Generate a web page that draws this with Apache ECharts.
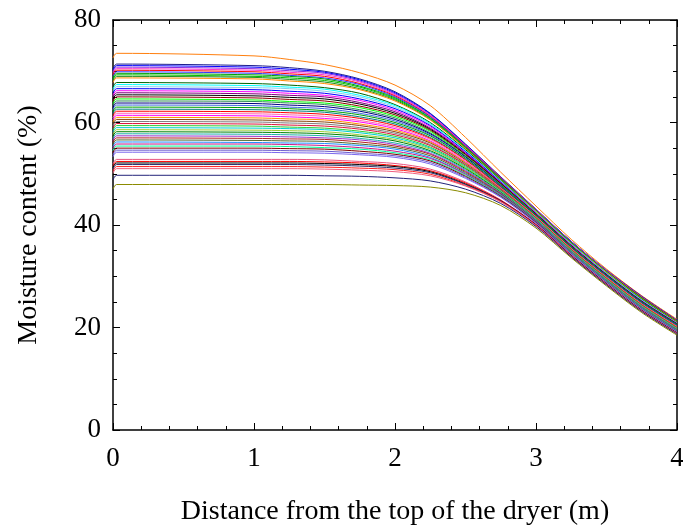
<!DOCTYPE html>
<html>
<head>
<meta charset="utf-8">
<script src="https://cdn.jsdelivr.net/npm/echarts@6/dist/echarts.min.js"></script>
<style>html,body{margin:0;padding:0;background:#fff;overflow:hidden}#c{width:683px;height:527px}</style>
</head>
<body>
<div id="c"></div>
<script>
// distance from the top of the dryer (m)
const distance = [0, 0.025, 1, 1.25, 1.5, 1.75, 2, 2.25, 2.5, 2.75, 3, 3.25, 3.5, 3.75, 4];
const xTicks = [0, 1, 2, 3, 4];
const yTicks = [0, 20, 40, 60, 80];

// moisture content (%) curves, highest initial moisture first
const upperCurves = [
  [72.6, 73.5, 73.0, 72.3, 71.3, 69.7, 67.3, 63.3, 57.1, 50.3, 43.7, 37.2, 31.4, 26.2, 21.6],
  [70.5, 71.4, 71.1, 70.7, 70.0, 68.5, 66.0, 61.8, 55.8, 49.4, 43.1, 36.8, 31.2, 26.1, 21.4],
  [70.2, 71.1, 70.8, 70.4, 69.8, 68.3, 65.8, 61.7, 55.7, 49.3, 43.0, 36.8, 31.1, 26.0, 21.4],
  [69.9, 70.8, 70.5, 70.1, 69.6, 68.1, 65.6, 61.5, 55.6, 49.3, 43.0, 36.7, 31.1, 26.0, 21.3],
  [69.6, 70.5, 70.2, 69.8, 69.3, 67.9, 65.4, 61.4, 55.5, 49.2, 43.0, 36.7, 31.1, 25.9, 21.3],
  [69.3, 70.2, 69.9, 69.5, 69.0, 67.6, 65.2, 61.2, 55.4, 49.2, 42.9, 36.6, 31.0, 25.9, 21.3],
  [69.0, 69.9, 69.6, 69.2, 68.7, 67.4, 65.0, 61.1, 55.3, 49.1, 42.9, 36.6, 31.0, 25.8, 21.2],
  [68.7, 69.6, 69.3, 69.0, 68.5, 67.1, 64.8, 60.9, 55.2, 49.0, 42.8, 36.6, 30.9, 25.8, 21.2],
  [68.4, 69.3, 69.0, 68.7, 68.2, 66.9, 64.6, 60.8, 55.1, 49.0, 42.8, 36.5, 30.9, 25.7, 21.2],
  [68.1, 69.0, 68.8, 68.4, 67.9, 66.6, 64.4, 60.6, 55.0, 48.9, 42.7, 36.5, 30.8, 25.7, 21.1],
  [67.8, 68.7, 68.5, 68.1, 67.6, 66.4, 64.2, 60.5, 54.9, 48.8, 42.7, 36.4, 30.8, 25.6, 21.1]
];
const denseCurves = [
  [66.9, 67.8, 67.6, 67.3, 66.8, 65.7, 63.5, 60.0, 54.7, 48.7, 42.5, 36.3, 30.6, 25.5, 21.0],
  [66.5, 67.4, 67.2, 66.9, 66.5, 65.3, 63.3, 59.8, 54.5, 48.6, 42.5, 36.3, 30.6, 25.4, 20.9],
  [66.1, 67.0, 66.8, 66.6, 66.1, 65.0, 63.0, 59.6, 54.4, 48.5, 42.4, 36.2, 30.5, 25.3, 20.9],
  [65.7, 66.6, 66.4, 66.1, 65.7, 64.6, 62.7, 59.4, 54.3, 48.4, 42.3, 36.1, 30.4, 25.2, 20.8],
  [65.3, 66.2, 66.0, 65.7, 65.3, 64.3, 62.4, 59.2, 54.1, 48.3, 42.3, 36.1, 30.4, 25.2, 20.8],
  [64.9, 65.8, 65.6, 65.3, 65.0, 63.9, 62.1, 58.9, 54.0, 48.2, 42.2, 36.0, 30.3, 25.1, 20.7],
  [64.5, 65.4, 65.2, 64.9, 64.6, 63.6, 61.8, 58.7, 53.8, 48.1, 42.1, 35.9, 30.3, 25.1, 20.7],
  [64.1, 65.0, 64.8, 64.5, 64.2, 63.2, 61.5, 58.5, 53.7, 48.0, 42.1, 35.9, 30.2, 25.0, 20.6],
  [63.7, 64.6, 64.4, 64.1, 63.8, 62.9, 61.2, 58.3, 53.5, 47.9, 42.0, 35.8, 30.2, 25.0, 20.6],
  [63.3, 64.2, 64.1, 63.8, 63.5, 62.5, 60.9, 58.0, 53.4, 47.8, 41.9, 35.8, 30.1, 24.9, 20.5],
  [62.9, 63.8, 63.7, 63.4, 63.1, 62.2, 60.6, 57.8, 53.3, 47.7, 41.9, 35.7, 30.1, 24.9, 20.5],
  [62.5, 63.4, 63.3, 63.0, 62.7, 61.8, 60.3, 57.6, 53.1, 47.6, 41.8, 35.6, 30.0, 24.8, 20.4],
  [62.1, 63.0, 62.9, 62.7, 62.3, 61.5, 60.0, 57.4, 53.0, 47.5, 41.8, 35.6, 29.9, 24.7, 20.3],
  [61.7, 62.6, 62.5, 62.3, 62.0, 61.1, 59.7, 57.1, 52.8, 47.4, 41.7, 35.5, 29.9, 24.7, 20.3],
  [61.3, 62.2, 62.1, 61.9, 61.6, 60.8, 59.4, 56.9, 52.7, 47.3, 41.6, 35.4, 29.8, 24.6, 20.2],
  [60.9, 61.8, 61.7, 61.5, 61.2, 60.4, 59.1, 56.7, 52.5, 47.2, 41.6, 35.4, 29.8, 24.6, 20.2],
  [60.5, 61.4, 61.3, 61.1, 60.8, 60.1, 58.8, 56.4, 52.3, 47.2, 41.5, 35.3, 29.7, 24.5, 20.1],
  [60.1, 61.0, 60.9, 60.7, 60.5, 59.7, 58.5, 56.2, 52.2, 47.1, 41.5, 35.3, 29.7, 24.5, 20.1],
  [59.7, 60.6, 60.5, 60.3, 60.1, 59.4, 58.2, 56.0, 52.0, 47.0, 41.4, 35.2, 29.6, 24.4, 20.0],
  [59.3, 60.2, 60.1, 59.9, 59.7, 59.0, 57.9, 55.7, 51.8, 46.9, 41.3, 35.1, 29.5, 24.3, 19.9],
  [58.9, 59.8, 59.7, 59.5, 59.3, 58.7, 57.6, 55.5, 51.7, 46.8, 41.3, 35.1, 29.5, 24.3, 19.9],
  [58.5, 59.4, 59.3, 59.1, 58.9, 58.3, 57.3, 55.2, 51.5, 46.7, 41.2, 35.0, 29.4, 24.2, 19.8],
  [58.1, 59.0, 58.9, 58.8, 58.6, 58.0, 57.0, 55.0, 51.3, 46.6, 41.2, 35.0, 29.4, 24.2, 19.8],
  [57.7, 58.6, 58.5, 58.4, 58.2, 57.6, 56.7, 54.8, 51.2, 46.5, 41.1, 34.9, 29.3, 24.1, 19.7],
  [57.3, 58.2, 58.1, 58.0, 57.8, 57.3, 56.4, 54.5, 51.0, 46.4, 41.0, 34.8, 29.2, 24.0, 19.6],
  [56.9, 57.8, 57.7, 57.6, 57.4, 56.9, 56.0, 54.3, 50.8, 46.3, 41.0, 34.8, 29.2, 24.0, 19.6],
  [56.5, 57.4, 57.3, 57.2, 57.0, 56.6, 55.7, 54.0, 50.6, 46.2, 40.9, 34.7, 29.1, 23.9, 19.5],
  [56.1, 57.0, 56.9, 56.8, 56.7, 56.2, 55.4, 53.8, 50.4, 46.1, 40.8, 34.7, 29.1, 23.9, 19.5],
  [55.7, 56.6, 56.5, 56.4, 56.3, 55.8, 55.1, 53.5, 50.2, 46.0, 40.8, 34.6, 29.0, 23.8, 19.4],
  [55.3, 56.2, 56.1, 56.0, 55.9, 55.5, 54.8, 53.2, 50.0, 45.9, 40.7, 34.6, 29.0, 23.8, 19.4],
  [54.9, 55.8, 55.8, 55.7, 55.5, 55.1, 54.4, 53.0, 49.9, 45.8, 40.6, 34.5, 28.9, 23.7, 19.3],
  [54.5, 55.4, 55.4, 55.3, 55.1, 54.8, 54.1, 52.7, 49.7, 45.7, 40.5, 34.5, 28.9, 23.7, 19.3],
  [54.1, 55.0, 55.0, 54.9, 54.8, 54.4, 53.8, 52.5, 49.5, 45.6, 40.5, 34.4, 28.8, 23.6, 19.2],
  [53.7, 54.6, 54.6, 54.5, 54.4, 54.0, 53.5, 52.2, 49.3, 45.5, 40.4, 34.4, 28.8, 23.6, 19.2],
  [53.3, 54.2, 54.2, 54.1, 54.0, 53.7, 53.2, 51.9, 49.1, 45.4, 40.3, 34.3, 28.7, 23.5, 19.1]
];
const lowerCurves = [
  [51.9, 52.8, 52.8, 52.8, 52.7, 52.4, 52.0, 50.9, 48.4, 44.9, 40.1, 34.1, 28.6, 23.4, 19.0],
  [51.5, 52.4, 52.4, 52.4, 52.3, 52.1, 51.6, 50.6, 48.2, 44.8, 40.1, 34.1, 28.5, 23.3, 18.9],
  [51.2, 52.1, 52.1, 52.1, 52.0, 51.8, 51.4, 50.4, 48.0, 44.7, 40.0, 34.0, 28.5, 23.3, 18.9],
  [50.9, 51.8, 51.8, 51.8, 51.7, 51.5, 51.1, 50.2, 47.9, 44.7, 40.0, 34.0, 28.5, 23.3, 18.9],
  [50.5, 51.4, 51.4, 51.4, 51.3, 51.1, 50.8, 49.9, 47.7, 44.6, 39.9, 33.9, 28.4, 23.2, 18.8],
  [50.1, 51.0, 51.0, 51.0, 50.9, 50.7, 50.4, 49.6, 47.6, 44.5, 39.9, 33.9, 28.4, 23.2, 18.8],
  [48.8, 49.7, 49.7, 49.7, 49.6, 49.5, 49.2, 48.6, 47.0, 44.2, 39.7, 33.8, 28.3, 23.1, 18.7],
  [47.0, 47.9, 47.9, 47.9, 47.9, 47.8, 47.7, 47.4, 46.3, 43.8, 39.4, 33.6, 28.1, 22.9, 18.5]
];

// line colours (style)
const upperColors = ['#ff7f0e','#1c1c8c','#0000ff','#8a2be2','#ff33cc','#ff0000','#3333ff','#00a000','#00c000','#228b22','#ff8c00'];
const denseColors = ['#006400','#00ffff','#87ceeb','#0000ff','#ff00ff','#800080','#000000','#8b0000','#00ff00','#2e8b57','#000080','#4169e1','#00a000','#008080','#ff0000','#ff69b4','#ff00ff','#ff8c00','#8b4513','#808080','#dc143c','#32cd32','#00ced1','#9acd32','#008000','#20b2aa','#9932cc','#b22222','#556b2f','#1e90ff','#c71585','#00fa9a','#800000','#6a5acd','#7b68ee'];
const lowerColors = ['#e75480','#ff0000','#000000','#2f2f6f','#ff2020','#f06080','#23237a','#8b8b00'];

const allCurves = upperCurves.concat(denseCurves, lowerCurves);
const allColors = upperColors.concat(denseColors, lowerColors);

const FONT = 'Liberation Serif';
const series = allCurves.map((vals, i) => ({
  type: 'line',
  data: distance.map((d, j) => [d, vals[j]]),
  showSymbol: false,
  smooth: 0.3,
  silent: true,
  lineStyle: { width: 1, color: allColors[i % allColors.length] },
  itemStyle: { color: allColors[i % allColors.length] },
  z: 2
}));

const chart = echarts.init(document.getElementById('c'), null, { renderer: 'canvas' });
const tickCommon = { inside: true, length: 7, lineStyle: { color: '#000', width: 1 } };
const minorCommon = { show: true, length: 4, lineStyle: { color: '#000', width: 1 } };
chart.setOption({
  animation: false,
  backgroundColor: '#fff',
  grid: { left: 113, right: 6, top: 20, bottom: 97, containLabel: false, outerBoundsMode: 'none' },
  xAxis: [
    {
      type: 'value', min: xTicks[0], max: xTicks[xTicks.length - 1], interval: 1,
      name: 'Distance from the top of the dryer (m)', nameLocation: 'middle', nameGap: 68,
      nameTextStyle: { fontFamily: FONT, fontSize: 28, color: '#000' },
      axisLine: { show: true, onZero: false, lineStyle: { color: '#000', width: 1.5 } },
      axisTick: tickCommon,
      minorTick: Object.assign({ splitNumber: 5 }, minorCommon),
      splitLine: { show: false },
      axisLabel: { fontFamily: FONT, fontSize: 27, color: '#000', margin: 15 }
    },
    {
      type: 'value', position: 'top', min: xTicks[0], max: xTicks[xTicks.length - 1], interval: 1,
      axisLine: { show: true, onZero: false, lineStyle: { color: '#000', width: 1.5 } },
      axisTick: tickCommon,
      minorTick: Object.assign({ splitNumber: 5 }, minorCommon),
      splitLine: { show: false },
      axisLabel: { show: false }
    }
  ],
  yAxis: [
    {
      type: 'value', min: yTicks[0], max: yTicks[yTicks.length - 1], interval: 20,
      name: 'Moisture content (%)', nameLocation: 'middle', nameGap: 70,
      nameTextStyle: { fontFamily: FONT, fontSize: 28, color: '#000' },
      axisLine: { show: true, onZero: false, lineStyle: { color: '#000', width: 1.5 } },
      axisTick: tickCommon,
      minorTick: Object.assign({ splitNumber: 4 }, minorCommon),
      splitLine: { show: false },
      axisLabel: { fontFamily: FONT, fontSize: 27, color: '#000', margin: 12 }
    },
    {
      type: 'value', position: 'right', min: yTicks[0], max: yTicks[yTicks.length - 1], interval: 20,
      axisLine: { show: true, onZero: false, lineStyle: { color: '#000', width: 1.5 } },
      axisTick: tickCommon,
      minorTick: Object.assign({ splitNumber: 4 }, minorCommon),
      splitLine: { show: false },
      axisLabel: { show: false }
    }
  ],
  series: series
});
</script>
</body>
</html>
